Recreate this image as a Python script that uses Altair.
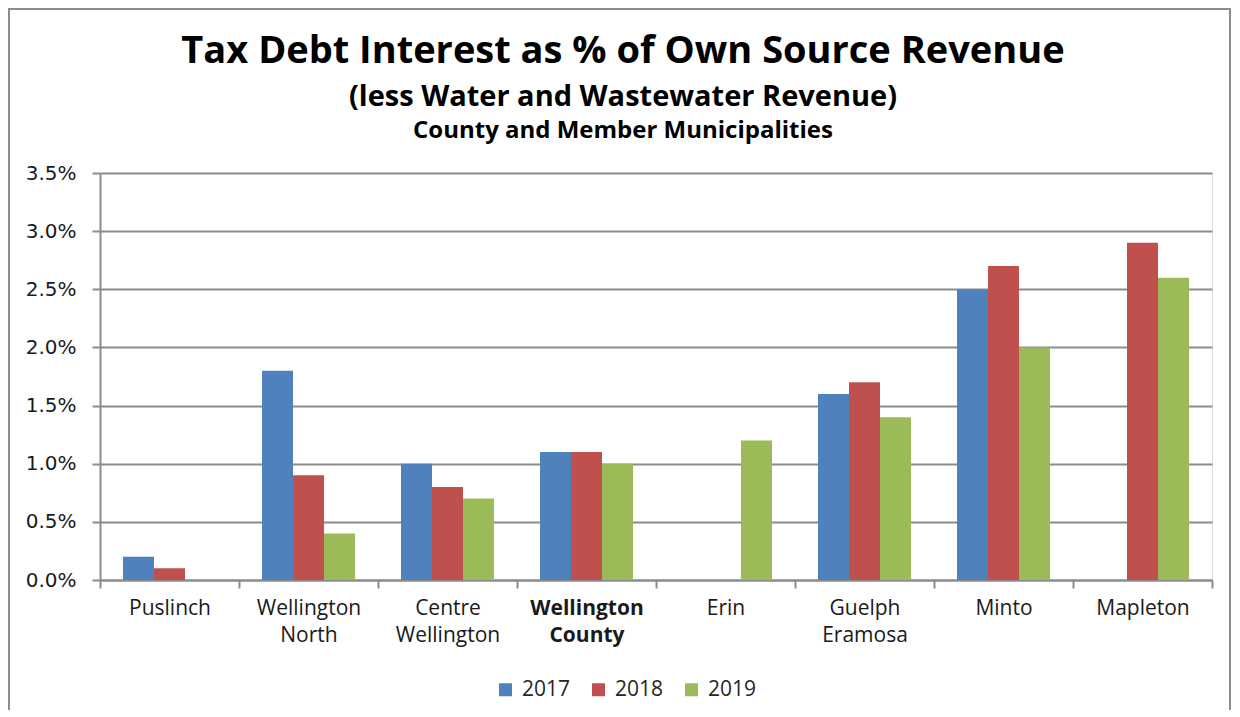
import altair as alt
import pandas as pd

categories = ["Puslinch", "Wellington North", "Centre Wellington", "Wellington County",
              "Erin", "Guelph Eramosa", "Minto", "Mapleton"]
years = ["2017", "2018", "2019"]
v2017 = [0.002, 0.018, 0.010, 0.011, None, 0.016, 0.025, None]
v2018 = [0.001, 0.009, 0.008, 0.011, None, 0.017, 0.027, 0.029]
v2019 = [None, 0.004, 0.007, 0.010, 0.012, 0.014, 0.020, 0.026]
y_ticks = [0.0, 0.005, 0.01, 0.015, 0.02, 0.025, 0.03, 0.035]
colors = ["#4F81BD", "#C0504D", "#9BBB59"]

title_main = "Tax Debt Interest as % of Own Source Revenue"
title_sub1 = "(less Water and Wastewater Revenue)"
title_sub2 = "County and Member Municipalities"

rows = []
for yr, vals in zip(years, [v2017, v2018, v2019]):
    for c, v in zip(categories, vals):
        rows.append({"Municipality": c, "Year": yr, "Value": v})
df = pd.DataFrame(rows)

W, H = 1112, 407
GRID = "#8c8c8c"

bars = alt.Chart(df).mark_bar().encode(
    x=alt.X("Municipality:N", sort=categories,
            scale=alt.Scale(paddingInner=0, paddingOuter=0),
            axis=alt.Axis(title=None, labelAngle=0, tickBand="extent",
                          labelExpr="split(datum.label, ' ')",
                          labelFont="Open Sans", labelFontSize=21, labelColor="#1a1a1a",
                          labelLineHeight=27, labelPadding=9, labelBaseline="top",
                          labelFontWeight={"condition": {"test": "datum.value == 'Wellington County'", "value": "bold"}, "value": "normal"},
                          domainColor=GRID, domainWidth=2, tickColor=GRID, tickWidth=2, tickSize=8,
                          grid=False)),
    xOffset=alt.XOffset("Year:N", sort=years,
                        scale=alt.Scale(domain=years, paddingOuter=0.742, paddingInner=0)),
    y=alt.Y("Value:Q",
            scale=alt.Scale(domain=[0, 0.035], nice=False),
            axis=alt.Axis(title=None, values=y_ticks, format=".1%",
                          labelFont="DejaVu Sans", labelFontSize=20, labelColor="#1a1a1a",
                          labelPadding=16, tickSize=8, tickColor=GRID, tickWidth=2,
                          domainColor=GRID, domainWidth=2,
                          grid=True, gridColor=GRID, gridWidth=2)),
    color=alt.Color("Year:N", sort=years,
                    scale=alt.Scale(domain=years, range=colors),
                    legend=alt.Legend(title=None, orient="none", direction="horizontal",
                                      legendX=395, legendY=506, padding=0,
                                      symbolType="square", symbolSize=169, symbolStrokeWidth=0,
                                      labelFont="Open Sans", labelFontSize=21, labelColor="#262626",
                                      labelOffset=6, columnPadding=17)),
)

one = pd.DataFrame({"a": [0]})
frame = alt.Chart(one).mark_rect(filled=False, stroke=GRID, strokeWidth=2).encode(
    x=alt.value(-91), x2=alt.value(1130), y=alt.value(-164), y2=alt.value(600))

t1 = alt.Chart(one).mark_text(text=title_main, font="Open Sans", fontWeight="bold",
                              fontSize=38, align="center", baseline="alphabetic", color="#000"
                              ).encode(x=alt.value(523), y=alt.value(-110))
t2 = alt.Chart(one).mark_text(text=title_sub1, font="Open Sans", fontWeight="bold",
                              fontSize=29, align="center", baseline="alphabetic", color="#000"
                              ).encode(x=alt.value(523), y=alt.value(-67))
t3 = alt.Chart(one).mark_text(text=title_sub2, font="Open Sans", fontWeight="bold",
                              fontSize=24, align="center", baseline="alphabetic", color="#000"
                              ).encode(x=alt.value(523), y=alt.value(-35))

chart = alt.layer(frame, bars, t1, t2, t3).properties(
    width=W, height=H,
    autosize=alt.AutoSizeParams(type="none"),
    padding={"left": 92, "top": 165, "right": 20, "bottom": 130},
).configure_view(stroke="transparent").configure(background="white")

chart.save("out.html", embed_options={"renderer": "svg", "actions": False})
